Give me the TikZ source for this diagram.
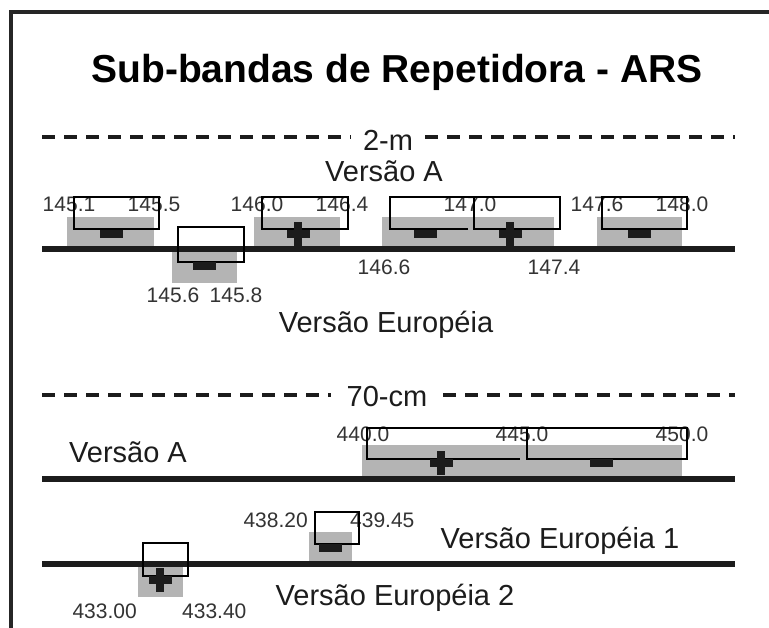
\documentclass[tikz,border=0pt]{standalone}
\usepackage{fontspec}
\setmainfont{Liberation Sans}
\definecolor{bandgray}{RGB}{180,180,180}
\definecolor{ink}{RGB}{28,28,28}

\begin{document}
\begin{tikzpicture}[x=1pt, y=-1pt,
  ttl/.style = {font=\bfseries\fontsize{39}{47}\selectfont, anchor=base, inner sep=0pt},
  lbl/.style = {font=\fontsize{29}{35}\selectfont, anchor=base, text=ink, inner sep=0pt},
  freq/.style = {font=\fontsize{21}{25}\selectfont, anchor=base, text=ink!90, inner sep=0pt},
  band/.style = {fill=bandgray},
  slot/.style = {draw=black, line width=1.2pt},
  rail/.style = {draw=ink, line width=6pt},
  divider/.style = {draw=ink, line width=4pt, dash pattern=on 13pt off 9pt},
  hbar/.style = {fill=ink, inner sep=0pt, minimum width=23pt, minimum height=8pt},
  vbar/.style = {fill=ink, inner sep=0pt, minimum width=8pt, minimum height=24pt}]
\useasboundingbox (0,0) rectangle (769,628);
\fill[white] (0,0) rectangle (769,628);
\draw[line width=3.5pt, black!85] (11,632) -- (11,12) -- (773,12);

\node[ttl] (title) at (397,83) {Sub-bandas de Repetidora - ARS};

% 2-m
\node[lbl, inner xsep=12pt] (m2) at (388,151) {2-m};
\draw[divider] (42,137) -- (m2.west |- 0,137);
\draw[divider] (m2.east |- 0,137) -- (735,137);
\node[lbl] (va1) at (384,182) {Versão A};

\fill[band] (67,217) rectangle (154,249);
\fill[band] (172,249) rectangle (237,283);
\fill[band] (254,217) rectangle (340,249);
\fill[band] (382,217) rectangle (554,249);
\fill[band] (597,217) rectangle (682,249);
\draw[rail] (42,249) -- (735,249);

\node[freq] (f1451) at (69,212) {145.1};
\node[freq] (f1455) at (154,212) {145.5};
\node[freq] (f1460) at (257,212) {146.0};
\node[freq] (f1464) at (342,212) {146.4};
\node[freq] (f1470) at (470,212) {147.0};
\node[freq] (f1476) at (597,212) {147.6};
\node[freq] (f1480) at (682,212) {148.0};
\node[freq] (f1466) at (384,275) {146.6};
\node[freq] (f1474) at (554,275) {147.4};
\node[freq] (f1456) at (173,303) {145.6};
\node[freq] (f1458) at (236,303) {145.8};

\draw[slot] (74,197) rectangle (159,229);
\draw[slot] (178,227) rectangle (244,262);
\draw[slot] (262,197) rectangle (348,229);
\draw[slot] (468,229) -- (390,229) -- (390,197) -- (474,197);
\draw[slot] (474,197) rectangle (560,229);
\draw[slot] (602,197) rectangle (687,229);

\node[hbar] (s1) at (111,234) {};
\node[hbar] (s2) at (204,266) {};
\node[hbar] (s3) at (298,234) {};
\node[vbar] (s4) at (298,234) {};
\node[hbar] (s5) at (425,234) {};
\node[hbar] (s6) at (510,234) {};
\node[vbar] (s7) at (510,234) {};
\node[hbar] (s8) at (639,234) {};

\node[lbl] (ve1) at (386,333) {Versão Européia};

% 70-cm
\node[lbl, inner xsep=16pt] (cm70) at (387,407) {70-cm};
\draw[divider] (42,395) -- (cm70.west |- 0,395);
\draw[divider] (cm70.east |- 0,395) -- (735,395);
\node[lbl] (va2) at (128,462) {Versão A};

\fill[band] (362,445) rectangle (682,479);
\draw[rail] (42,479) -- (735,479);
\node[freq] (f4400) at (363,442) {440.0};
\node[freq] (f4450) at (522,442) {445.0};
\node[freq] (f4500) at (682,442) {450.0};
\draw[slot] (520,459) -- (367,459) -- (367,428) -- (527,428);
\draw[slot] (527,428) rectangle (687,459);
\node[hbar] (s9) at (441,463) {};
\node[vbar] (s10) at (441,463) {};
\node[hbar] (s11) at (601,463) {};

\fill[band] (309,532) rectangle (352,564);
\fill[band] (138,564) rectangle (183,597);
\draw[rail] (42,564) -- (735,564);
\node[freq, anchor=base east] (f43820) at (308,527) {438.20};
\node[freq, anchor=base west] (f43945) at (350,527) {439.45};
\node[freq, anchor=base east] (f43300) at (137,618) {433.00};
\node[freq, anchor=base west] (f43340) at (182,618) {433.40};
\draw[slot] (315,512) rectangle (359,544);
\draw[slot] (143,543) rectangle (188,576);
\node[hbar] (s12) at (330,548) {};
\node[hbar] (s13) at (160,580) {};
\node[vbar] (s14) at (160,580) {};

\node[lbl] (ve2) at (560,548) {Versão Européia 1};
\node[lbl] (ve3) at (395,605) {Versão Européia 2};

\end{tikzpicture}
\end{document}
